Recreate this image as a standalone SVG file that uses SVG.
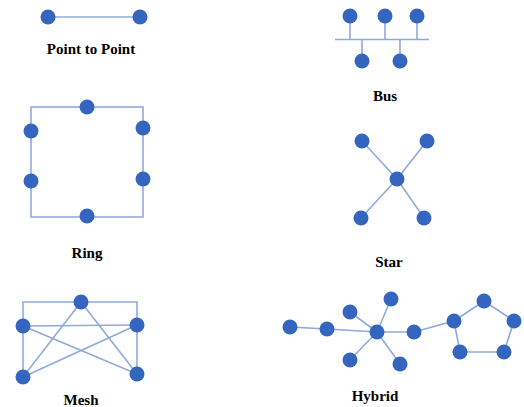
<svg xmlns="http://www.w3.org/2000/svg" width="524" height="407" viewBox="0 0 524 407">
<style>
.n{fill:#3466BF}
.e{stroke:#8FAADC;stroke-width:1.6;fill:none}
.t{font-family:"Liberation Serif",serif;font-weight:bold;font-size:15px;fill:#000;text-anchor:middle}
</style>
<rect width="524" height="407" fill="#fff"/>
<g id="connectors">
<line class="e" x1="48" y1="17" x2="140" y2="17"/>
<line class="e" x1="335" y1="39.5" x2="429" y2="39.5"/>
<line class="e" x1="350" y1="16" x2="350" y2="39.5"/>
<line class="e" x1="385" y1="16" x2="385" y2="39.5"/>
<line class="e" x1="417" y1="16" x2="417" y2="39.5"/>
<line class="e" x1="362" y1="39.5" x2="362" y2="61"/>
<line class="e" x1="400" y1="39.5" x2="400" y2="61"/>
<rect class="e" x="31" y="107" width="112" height="110"/>
<line class="e" x1="362" y1="141" x2="397" y2="179"/>
<line class="e" x1="427" y1="141" x2="397" y2="179"/>
<line class="e" x1="361" y1="218" x2="397" y2="179"/>
<line class="e" x1="424" y1="218" x2="397" y2="179"/>
<polyline class="e" points="23,377 23,302 137,302 137,374"/>
<line class="e" x1="23" y1="326" x2="137" y2="325"/>
<line class="e" x1="81" y1="302" x2="23" y2="377"/>
<line class="e" x1="81" y1="302" x2="137" y2="374"/>
<line class="e" x1="23" y1="326" x2="137" y2="374"/>
<line class="e" x1="137" y1="325" x2="23" y2="377"/>
<line class="e" x1="290" y1="327" x2="327" y2="329"/>
<line class="e" x1="327" y1="329" x2="377" y2="332"/>
<line class="e" x1="350" y1="312" x2="377" y2="332"/>
<line class="e" x1="391" y1="299" x2="377" y2="332"/>
<line class="e" x1="350" y1="360" x2="377" y2="332"/>
<line class="e" x1="400" y1="364" x2="377" y2="332"/>
<line class="e" x1="377" y1="332" x2="414" y2="332"/>
<line class="e" x1="414" y1="332" x2="454" y2="321"/>
<polygon class="e" points="454,321 484,301 514,321 504,352 460,352"/>
</g>
<g id="point-to-point">
<circle class="n" cx="48" cy="17" r="7.5"/>
<circle class="n" cx="140" cy="17" r="7.5"/>
<text class="t" x="91" y="54">Point to Point</text>
</g>
<g id="bus">
<circle class="n" cx="350" cy="16" r="7.5"/>
<circle class="n" cx="385" cy="16" r="7.5"/>
<circle class="n" cx="417" cy="16" r="7.5"/>
<circle class="n" cx="362" cy="61" r="7.5"/>
<circle class="n" cx="400" cy="61" r="7.5"/>
<text class="t" x="385" y="101">Bus</text>
</g>
<g id="ring">
<circle class="n" cx="87" cy="107" r="7.5"/>
<circle class="n" cx="31" cy="131" r="7.5"/>
<circle class="n" cx="31" cy="181" r="7.5"/>
<circle class="n" cx="143" cy="128" r="7.5"/>
<circle class="n" cx="143" cy="179" r="7.5"/>
<circle class="n" cx="87" cy="216" r="7.5"/>
<text class="t" x="87" y="258">Ring</text>
</g>
<g id="star">
<circle class="n" cx="362" cy="141" r="7.5"/>
<circle class="n" cx="427" cy="141" r="7.5"/>
<circle class="n" cx="397" cy="179" r="7.5"/>
<circle class="n" cx="361" cy="218" r="7.5"/>
<circle class="n" cx="424" cy="218" r="7.5"/>
<text class="t" x="389" y="267">Star</text>
</g>
<g id="mesh">
<circle class="n" cx="81" cy="302" r="7.5"/>
<circle class="n" cx="23" cy="326" r="7.5"/>
<circle class="n" cx="137" cy="325" r="7.5"/>
<circle class="n" cx="23" cy="377" r="7.5"/>
<circle class="n" cx="137" cy="374" r="7.5"/>
<text class="t" x="81" y="405">Mesh</text>
</g>
<g id="hybrid">
<circle class="n" cx="290" cy="327" r="7.5"/>
<circle class="n" cx="327" cy="329" r="7.5"/>
<circle class="n" cx="350" cy="312" r="7.5"/>
<circle class="n" cx="391" cy="299" r="7.5"/>
<circle class="n" cx="377" cy="332" r="7.5"/>
<circle class="n" cx="350" cy="360" r="7.5"/>
<circle class="n" cx="400" cy="364" r="7.5"/>
<circle class="n" cx="414" cy="332" r="7.5"/>
<circle class="n" cx="454" cy="321" r="7.5"/>
<circle class="n" cx="484" cy="301" r="7.5"/>
<circle class="n" cx="514" cy="321" r="7.5"/>
<circle class="n" cx="504" cy="352" r="7.5"/>
<circle class="n" cx="460" cy="352" r="7.5"/>
<text class="t" x="375" y="401">Hybrid</text>
</g>
</svg>
